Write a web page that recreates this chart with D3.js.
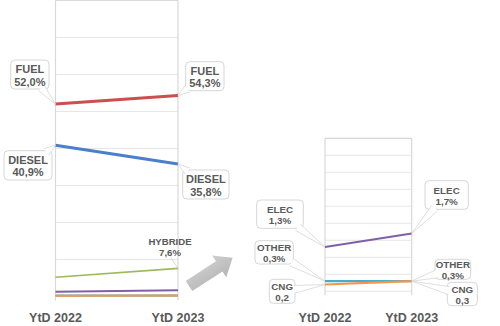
<!DOCTYPE html>
<html><head><meta charset="utf-8">
<script src="https://cdn.jsdelivr.net/npm/d3@7"></script>
<style>body{margin:0;background:#fff}svg{display:block}text{font-family:"Liberation Sans",Arial,sans-serif;font-weight:bold;fill:#595959}</style>
</head><body><svg id="c" width="500" height="326"></svg>
<script>
const years = ["YtD 2022", "YtD 2023"];
const series = ["FUEL", "DIESEL", "HYBRIDE", "ELEC", "OTHER", "CNG"];
const values2022 = [52.0, 40.9, 5.2, 1.3, 0.3, 0.2];
const values2023 = [54.3, 35.8, 7.6, 1.7, 0.3, 0.3];
const colors = ["#cb4f4c", "#4a7fcb", "#9bbb59", "#7f5fa8", "#4bacc6", "#f79646"];
const leftTicks = [0, 10, 20, 30, 40, 50, 60, 70, 80];
const rightTicks = [0, 0.5, 1, 1.5, 2, 2.5, 3, 3.5, 4, 4.5];
const zoomSeries = ["ELEC", "OTHER", "CNG"];
// label texts as shown in the chart
const labels2022 = {FUEL: "52,0%", DIESEL: "40,9%", ELEC: "1,3%", OTHER: "0,3%", CNG: "0,2"};
const labels2023 = {FUEL: "54,3%", DIESEL: "35,8%", HYBRIDE: "7,6%", ELEC: "1,7%", OTHER: "0,3%", CNG: "0,3"};

const svg = d3.select("#c");
const data = series.map((s, i) => ({name: s, color: colors[i], vals: [values2022[i], values2023[i]]}));

function panel(cfg) {
  const g = svg.append("g");
  const x = d3.scalePoint().domain(years).range([cfg.x0, cfg.x1]);
  const y = d3.scaleLinear().domain(cfg.domain).range([cfg.yb, cfg.yt]);
  g.selectAll(".grid").data(cfg.ticks).join("line")
    .attr("x1", cfg.x0).attr("x2", cfg.x1)
    .attr("y1", d => y(d)).attr("y2", d => y(d))
    .attr("stroke", "#e6e6e6").attr("stroke-width", 1);
  g.selectAll(".vl").data(years).join("line")
    .attr("x1", d => x(d)).attr("x2", d => x(d))
    .attr("y1", cfg.yt).attr("y2", cfg.yb + 4)
    .attr("stroke", "#d9d9d9").attr("stroke-width", 1.2);
  g.append("line").attr("x1", cfg.x0).attr("x2", cfg.x1).attr("y1", cfg.yt).attr("y2", cfg.yt)
    .attr("stroke", "#d9d9d9").attr("stroke-width", 1.2);
  g.selectAll(".xl").data(years).join("text")
    .attr("x", d => x(d)).attr("y", 322).attr("text-anchor", "middle")
    .attr("font-size", 12.5).text(d => d);
  const line = d3.line().x((v, i) => x(years[i])).y(v => y(v));
  g.selectAll(".ln").data(cfg.data).join("path")
    .attr("d", d => line(d.vals)).attr("fill", "none")
    .attr("stroke", d => d.color).attr("stroke-width", d => cfg.widths[d.name] || 2);
  return {x, y, g};
}

const L = panel({x0: 55.5, x1: 178, yt: 0.5, yb: 296.5, domain: [0, 80], ticks: leftTicks, data: data,
  widths: {FUEL: 3, DIESEL: 3, HYBRIDE: 1.6, ELEC: 2, OTHER: 2, CNG: 2}});
const R = panel({x0: 325, x1: 411.7, yt: 138.3, yb: 291.3, domain: [0, 4.5], ticks: rightTicks,
  data: data.filter(d => zoomSeries.includes(d.name)),
  widths: {ELEC: 2, OTHER: 2.2, CNG: 2.2}});

function callout(P, name, yi, box, fs) {
  const i = series.indexOf(name);
  const v = yi === 0 ? values2022[i] : values2023[i];
  const tx = P.x(years[yi]), ty = P.y(v);
  const [bx0, by0, bx1, by1] = box;
  const cx = (bx0 + bx1) / 2, cy = (by0 + by1) / 2;
  const dx = tx - cx, dy = ty - cy;
  const sx = (bx1 - bx0) / 2 / Math.abs(dx || 1e-6), sy = (by1 - by0) / 2 / Math.abs(dy || 1e-6);
  const s = Math.min(sx, sy) * 0.92;
  const bpx = cx + dx * s, bpy = cy + dy * s;
  const len = Math.hypot(dx, dy), nx = -dy / len * 4, ny = dx / len * 4;
  const g = svg.append("g");
  g.append("rect").attr("x", bx0).attr("y", by0).attr("width", bx1 - bx0).attr("height", by1 - by0)
    .attr("rx", 4).attr("fill", "#fff").attr("stroke", "#d6d6d6").attr("stroke-width", 1);
  g.append("path").attr("d", `M${bpx + nx},${bpy + ny}L${tx},${ty}L${bpx - nx},${bpy - ny}`)
    .attr("fill", "#fff").attr("stroke", "#d6d6d6").attr("stroke-width", 0.8);
  const lab = yi === 0 ? labels2022[name] : labels2023[name];
  g.append("text").attr("x", cx).attr("y", cy - fs * 0.12).attr("text-anchor", "middle").attr("font-size", fs).text(name);
  g.append("text").attr("x", cx).attr("y", cy + fs * 1.0).attr("text-anchor", "middle").attr("font-size", fs).text(lab);
}

callout(L, "FUEL", 0, [10.7, 60, 49, 89], 11);
callout(L, "FUEL", 1, [185.7, 61.7, 224, 90.7], 11);
callout(L, "DIESEL", 0, [4, 150.7, 52, 180], 11);
callout(L, "DIESEL", 1, [182.7, 170, 229, 199], 11);

{
  const i = series.indexOf("HYBRIDE");
  const tx = L.x(years[1]), ty = L.y(values2023[i]);
  svg.append("line").attr("x1", 170.7).attr("y1", 257.5).attr("x2", tx).attr("y2", ty)
    .attr("stroke", "#d0d0d0").attr("stroke-width", 0.8);
  svg.append("text").attr("x", 170).attr("y", 245).attr("text-anchor", "middle").attr("font-size", 9.6).text("HYBRIDE");
  svg.append("text").attr("x", 170).attr("y", 256).attr("text-anchor", "middle").attr("font-size", 9.6).text(labels2023.HYBRIDE);
}

callout(R, "ELEC", 0, [256.7, 200, 303.3, 228.3], 9.8);
callout(R, "ELEC", 1, [425, 180.7, 468.3, 209.3], 9.8);
callout(R, "OTHER", 0, [255, 240.7, 293.3, 264], 9.8);
callout(R, "CNG", 0, [269.3, 279.3, 295, 303.3], 9.8);
callout(R, "OTHER", 1, [435, 259.3, 470.7, 279.3], 9.8);
callout(R, "CNG", 1, [447.3, 282.3, 477.3, 305.7], 9.8);

const grad = svg.append("defs").append("linearGradient").attr("id", "ag").attr("x1", 0).attr("y1", 0).attr("x2", 0).attr("y2", 1);
grad.append("stop").attr("offset", 0).attr("stop-color", "#cfcfcf");
grad.append("stop").attr("offset", 1).attr("stop-color", "#b5b5b5");
svg.append("path")
  .attr("d", "M0,-6L36,-6L36,-13L52,0L36,13L36,6L0,6Z")
  .attr("transform", "translate(189,286) rotate(-33)")
  .attr("fill", "url(#ag)");
</script></body></html>
